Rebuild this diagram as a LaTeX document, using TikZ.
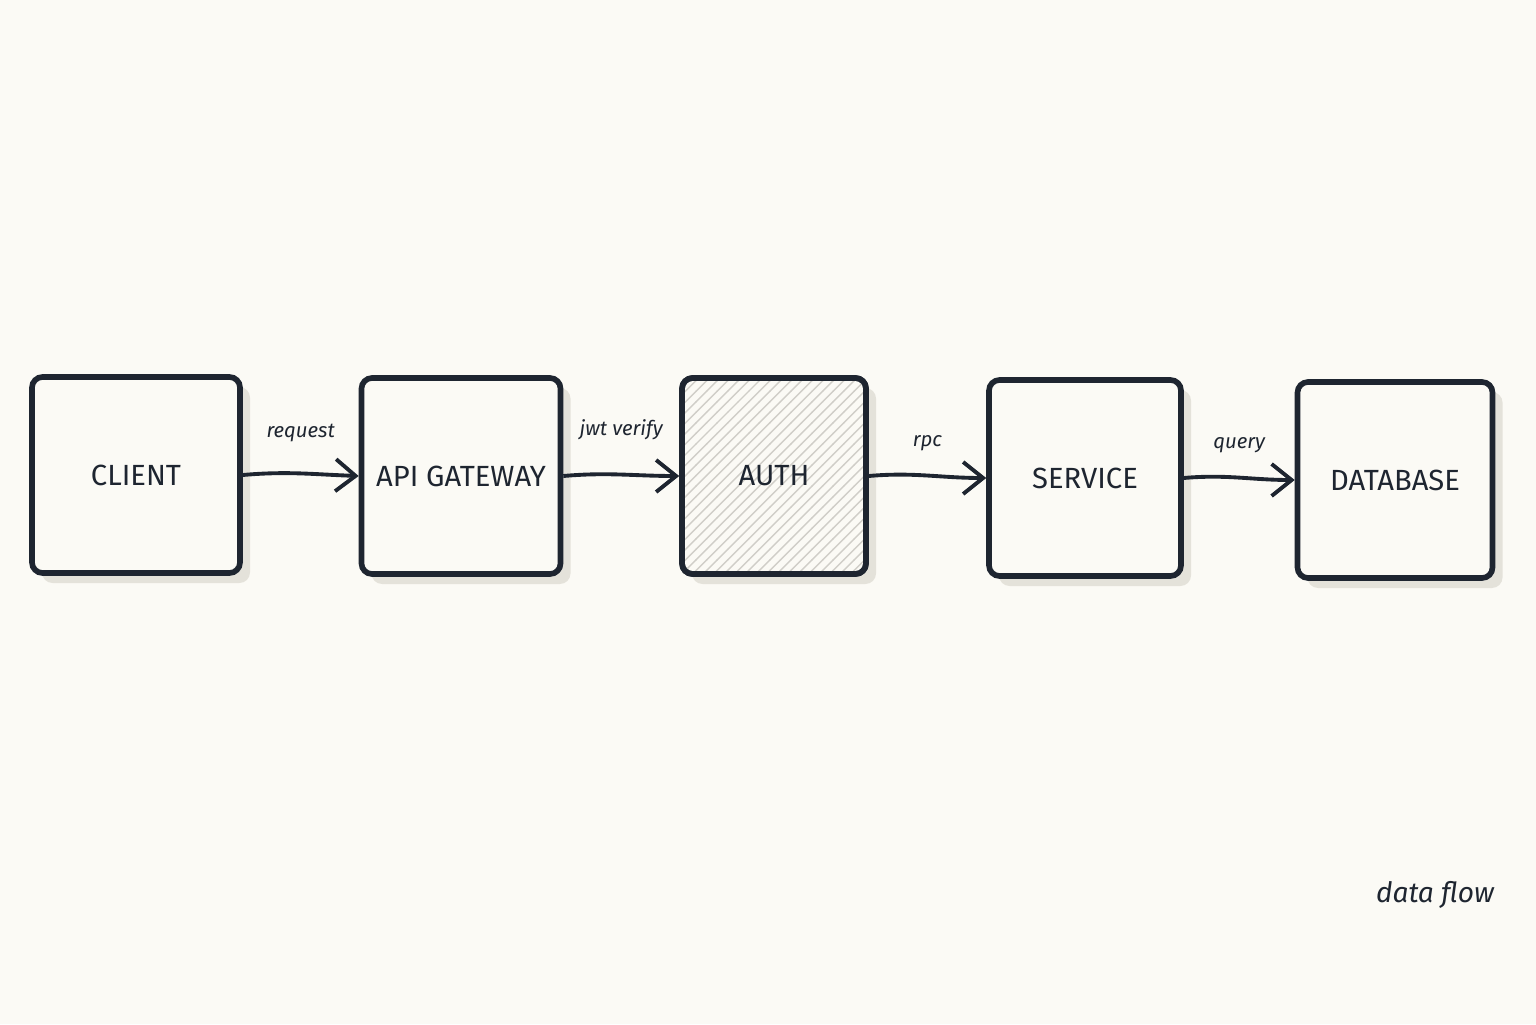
\documentclass[tikz,border=0pt]{standalone}
\usepackage{fontspec}
\setmainfont{Fira Sans}
\usetikzlibrary{patterns,arrows.meta,shadows}
\definecolor{paper}{HTML}{FBFAF5}
\definecolor{ink}{HTML}{1E2530}
\definecolor{shade}{HTML}{E4E2DA}
\begin{document}
\begin{tikzpicture}[>={Straight Barb[length=2mm,width=3.2mm]},
    box/.style={draw=ink, line width=1.6pt, rounded corners=3pt, minimum height=1.96cm,
      inner sep=0pt, fill=paper, text=ink, font=\fontsize{8.3}{10}\selectfont,
      drop shadow={shadow xshift=1mm, shadow yshift=-1mm, fill=shade, opacity=1}},
    lbl/.style={text=ink, font=\itshape\fontsize{5.8}{7}\selectfont},
    flow/.style={->, draw=ink, line width=1.1pt}]
  \useasboundingbox[fill=paper] (0,0) rectangle (15.36,10.24);

  % Nodes
  \node[box, minimum width=2.08cm] (client) at (1.36,5.49) {CLIENT};
  \node[box, minimum width=1.99cm] (gateway) at (4.61,5.48) {API GATEWAY};
  \node[box, minimum width=1.84cm] (auth) at (7.74,5.48) {};
  \draw[draw=ink, line width=1.6pt, rounded corners=3pt, pattern=north east lines, pattern color=shade!80!gray]
    ([shift={(0.8pt,0.8pt)}]auth.south west) rectangle ([shift={(-0.8pt,-0.8pt)}]auth.north east);
  \node[text=ink, font=\fontsize{8.3}{10}\selectfont] (authtext) at (auth) {AUTH};
  \node[box, minimum width=1.92cm] (service) at (10.85,5.46) {SERVICE};
  \node[box, minimum width=1.95cm] (database) at (13.95,5.44) {DATABASE};

  % Connectors
  \draw[flow] (client.east) to[out=5, in=178] node[lbl, above=5pt] {request} (gateway.west);
  \draw[flow] (gateway.east) to[out=5, in=180] node[lbl, above=6pt] {jwt verify} (auth.west);
  \draw[flow] (auth.east) to[out=5, in=180] node[lbl, above=3pt] {rpc} (service.west);
  \draw[flow] (service.east) to[out=5, in=180] node[lbl, above=3pt] {query} (database.west);

  \node[lbl, font=\itshape\fontsize{8}{10}\selectfont] (caption) at (14.35,1.29) {data flow};
\end{tikzpicture}
\end{document}
